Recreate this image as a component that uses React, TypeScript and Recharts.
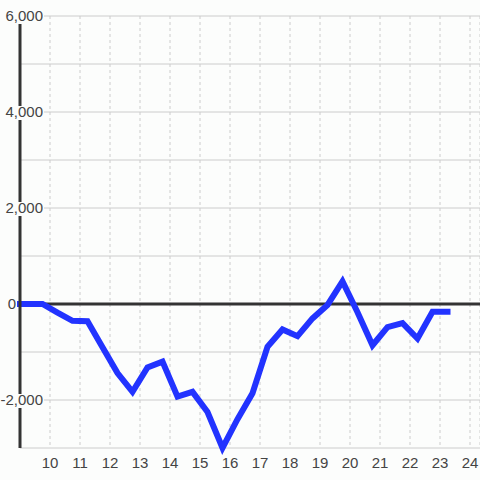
import React from 'react'
import { LineChart, Line, XAxis, YAxis, CartesianGrid, ReferenceLine } from 'recharts'

// half-hourly readings (hour of day)
const times = [9, 9.25, 9.75, 10.25, 10.75, 11.25, 11.75, 12.25, 12.75, 13.25, 13.75, 14.25, 14.75, 15.25, 15.75, 16.25, 16.75, 17.25, 17.75, 18.25, 18.75, 19.25, 19.75, 20.25, 20.75, 21.25, 21.75, 22.25, 22.75, 23.25]
const values = [0, 0, 0, -180, -350, -360, -900, -1440, -1830, -1320, -1200, -1930, -1830, -2250, -3000, -2400, -1860, -890, -530, -670, -300, -20, 470, -170, -860, -480, -400, -720, -160, -160]

const xTicks = [10, 11, 12, 13, 14, 15, 16, 17, 18, 19, 20, 21, 22, 23, 24]
const yTicks = [-3000, -2000, -1000, 0, 1000, 2000, 3000, 4000, 5000, 6000]
const yLabelled = [-2000, 0, 2000, 4000, 6000]

const data = times.map((t, i) => ({ t, v: values[i] }))

const BG = '#fcfdfc'
const FONT = '"Liberation Sans", Arial, sans-serif'
const FS = 15

const charW: Record<string, number> = { ',': 0.278, '-': 0.333 }
const textWidth = (s: string) => s.split('').reduce((w, c) => w + (charW[c] ?? 0.556) * FS, 0)

function YTick(props: any) {
  const { x, y, payload } = props
  const v = payload.value
  if (!yLabelled.includes(v)) return <g />
  const label = Number(v).toLocaleString('en-US')
  const right = v === 0 ? x - 4 : x + 23
  const w = textWidth(label)
  return (
    <g>
      <rect x={right - w - 1} y={y - 6} width={w + 2} height={14} fill={BG} />
      <text x={right} y={y} dy={5} textAnchor="end" fontSize={FS} fill="#444" fontFamily={FONT}>
        {label}
      </text>
    </g>
  )
}

export default function App() {
  return (
    <div style={{ position: 'absolute', left: 0, top: 0, width: 480, height: 480, background: BG }}>
      <LineChart width={480} height={480} data={data} margin={{ top: 16, right: 0, bottom: 0, left: 0 }}>
        <CartesianGrid vertical={false} stroke="#ccc" />
        <CartesianGrid horizontal={false} stroke="#ccc" strokeDasharray="3 3" />
        <XAxis
          dataKey="t"
          type="number"
          domain={[9, 24.333]}
          ticks={xTicks}
          axisLine={false}
          tickLine={false}
          tickSize={0}
          tickMargin={9}
          height={32}
          tick={{ fill: '#444', fontSize: FS, fontFamily: FONT }}
        />
        <YAxis
          type="number"
          domain={[-3000, 6000]}
          ticks={yTicks}
          width={20}
          tickLine={false}
          tickSize={0}
          tickMargin={0}
          axisLine={{ stroke: '#333', strokeWidth: 3 }}
          tick={<YTick />}
        />
        <ReferenceLine y={0} stroke="#333" strokeWidth={3} />
        <Line
          dataKey="v"
          stroke="#2233ff"
          strokeWidth={6}
          strokeLinecap="square"
          dot={false}
          activeDot={false}
          isAnimationActive={false}
        />
      </LineChart>
    </div>
  )
}
